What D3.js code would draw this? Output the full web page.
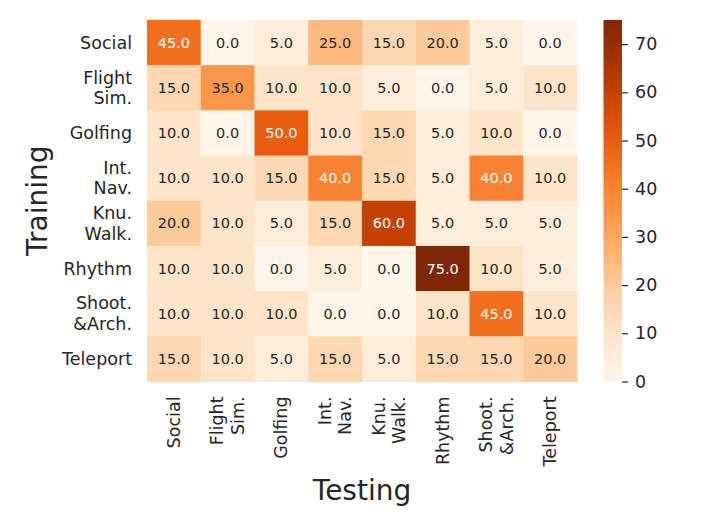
<!DOCTYPE html>
<html>
<head>
<meta charset="utf-8">
<script src="https://cdn.jsdelivr.net/npm/d3@7"></script>
<style>
  body { margin: 0; background: #fff; }
  text { font-family: "DejaVu Sans", sans-serif; fill: #262626; }
</style>
</head>
<body>
<svg id="chart" width="706" height="529"></svg>
<script>
// row / column labels (multi-line entries split on \n)
var trainLabels = ["Social", "Flight\nSim.", "Golfing", "Int.\nNav.", "Knu.\nWalk.", "Rhythm", "Shoot.\n&Arch.", "Teleport"];
var testLabels = ["Social", "Flight\nSim.", "Golfing", "Int.\nNav.", "Knu.\nWalk.", "Rhythm", "Shoot.\n&Arch.", "Teleport"];

// values per training row
var rowSocial   = [45, 0, 5, 25, 15, 20, 5, 0];
var rowFlight   = [15, 35, 10, 10, 5, 0, 5, 10];
var rowGolf     = [10, 0, 50, 10, 15, 5, 10, 0];
var rowIntNav   = [10, 10, 15, 40, 15, 5, 40, 10];
var rowKnu      = [20, 10, 5, 15, 60, 5, 5, 5];
var rowRhythm   = [10, 10, 0, 5, 0, 75, 10, 5];
var rowShoot    = [10, 10, 10, 0, 0, 10, 45, 10];
var rowTeleport = [15, 10, 5, 15, 5, 15, 15, 20];
var matrix = [rowSocial, rowFlight, rowGolf, rowIntNav, rowKnu, rowRhythm, rowShoot, rowTeleport];

var colorTicks = [0, 10, 20, 30, 40, 50, 60, 70];
var vmax = 75;

var svg = d3.select("#chart");

// heatmap area
var plotL = 147, plotR = 577, plotT = 20, plotB = 381.5;

var x = d3.scaleBand().domain(d3.range(testLabels.length)).range([plotL, plotR]);
var y = d3.scaleBand().domain(d3.range(trainLabels.length)).range([plotT, plotB]);
var color = d3.scaleSequential(d3.interpolateOranges).domain([0, vmax]);

var cells = [];
matrix.forEach(function (row, i) {
  row.forEach(function (v, j) {
    cells.push({ r: i, c: j, v: v });
  });
});

svg.append("g").selectAll("rect")
  .data(cells).enter()
  .append("rect")
  .attr("x", function (d) { return x(d.c); })
  .attr("y", function (d) { return y(d.r); })
  .attr("width", x.bandwidth() + 0.5)
  .attr("height", y.bandwidth() + 0.5)
  .attr("fill", function (d) { return color(d.v); });

svg.append("g").selectAll("text")
  .data(cells).enter()
  .append("text")
  .attr("x", function (d) { return x(d.c) + x.bandwidth() / 2; })
  .attr("y", function (d) { return y(d.r) + y.bandwidth() / 2; })
  .attr("text-anchor", "middle")
  .attr("dominant-baseline", "central")
  .attr("font-size", 14.5)
  .style("fill", function (d) { return d.v >= 40 ? "#ffffff" : "#262626"; })
  .text(function (d) { return d.v.toFixed(1); });

// y tick labels (right aligned, multi-line)
var lineH = 20.5;
var tickFont = 17.5;
trainLabels.forEach(function (lab, i) {
  var lines = lab.split("\n");
  var cy = y(i) + y.bandwidth() / 2;
  var t = svg.append("text")
    .attr("text-anchor", "end")
    .attr("font-size", tickFont);
  lines.forEach(function (ln, k) {
    t.append("tspan")
      .attr("x", plotL - 15)
      .attr("y", cy + (k - (lines.length - 1) / 2) * lineH)
      .attr("dominant-baseline", "central")
      .text(ln);
  });
});

// x tick labels (rotated 90, right aligned at top)
testLabels.forEach(function (lab, j) {
  var lines = lab.split("\n");
  var cx = x(j) + x.bandwidth() / 2;
  var g = svg.append("g").attr("transform", "translate(" + cx + "," + (plotB + 15) + ") rotate(-90)");
  var t = g.append("text").attr("text-anchor", "end").attr("font-size", tickFont);
  lines.forEach(function (ln, k) {
    t.append("tspan")
      .attr("x", 0)
      .attr("y", (k - (lines.length - 1) / 2) * lineH)
      .attr("dominant-baseline", "central")
      .text(ln);
  });
});

// axis titles
svg.append("text")
  .attr("x", (plotL + plotR) / 2)
  .attr("y", 500)
  .attr("text-anchor", "middle")
  .attr("font-size", 28)
  .text("Testing");

svg.append("text")
  .attr("transform", "translate(47," + ((plotT + plotB) / 2) + ") rotate(-90)")
  .attr("text-anchor", "middle")
  .attr("font-size", 28)
  .text("Training");

// colorbar
var cbX = 603.5, cbW = 18.5;
var cbScale = d3.scaleLinear().domain([0, vmax]).range([plotB, plotT]);
var defs = svg.append("defs");
var grad = defs.append("linearGradient").attr("id", "cbgrad")
  .attr("x1", 0).attr("y1", 1).attr("x2", 0).attr("y2", 0);
d3.range(0, 1.0001, 0.05).forEach(function (t) {
  grad.append("stop").attr("offset", t).attr("stop-color", color(t * vmax));
});
svg.append("rect")
  .attr("x", cbX).attr("y", plotT)
  .attr("width", cbW).attr("height", plotB - plotT)
  .attr("fill", "url(#cbgrad)");

var cbAxis = d3.axisRight(cbScale).tickValues(colorTicks).tickSize(6).tickPadding(7);
var ag = svg.append("g")
  .attr("transform", "translate(" + (cbX + cbW) + ",0)")
  .call(cbAxis);
ag.select(".domain").remove();
ag.selectAll("line").attr("stroke", "#262626").attr("stroke-width", 1.2);
ag.selectAll("text").attr("font-size", tickFont).attr("font-family", "DejaVu Sans").style("fill", "#262626");
</script>
</body>
</html>
